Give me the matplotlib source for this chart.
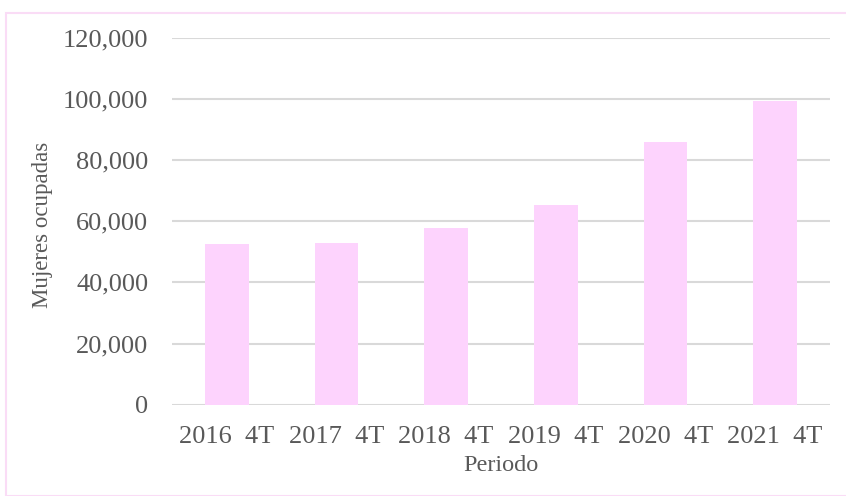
import numpy as np
import matplotlib.pyplot as plt
from matplotlib.patches import Rectangle
from matplotlib.ticker import FuncFormatter

# datos
periodos = ['2016  4T', '2017  4T', '2018  4T', '2019  4T', '2020  4T', '2021  4T']
mujeres = [52400, 53000, 57900, 65150, 86000, 99300]

plt.rcParams['font.family'] = ['Liberation Serif', 'DejaVu Serif']

W, H = 846, 496
fig = plt.figure(figsize=(W / 100, H / 100), dpi=100)
# marco rosa del grafico
fig.patches.append(Rectangle((6 / W, 0), 1, 1 - 13 / H, transform=fig.transFigure,
                             fill=False, edgecolor='#FADCF6', linewidth=1.5))

ax = fig.add_axes([172 / W, 1 - 404.7 / H, (830 - 172) / W, (404.7 - 37.7) / H])
x = np.arange(len(periodos))
ax.bar(x, mujeres, width=0.4, color='#FDD3FD', zorder=2)

ax.set_xlim(-0.5, len(periodos) - 0.5)
ax.set_ylim(0, 120000)
ax.set_yticks(np.arange(0, 120001, 20000))
ax.yaxis.set_major_formatter(FuncFormatter(lambda v, p: f'{v:,.0f}'))
ax.set_xticks(x)
ax.set_xticklabels(periodos)
ax.grid(axis='y', color='#D9D9D9', linewidth=1.5, zorder=0)
for s in ax.spines.values():
    s.set_visible(False)
ax.tick_params(length=0, labelsize=19, colors='#595959')
ax.tick_params(axis='y', pad=17)
ax.tick_params(axis='x', pad=15)

ax.set_xlabel('Periodo', fontsize=17.5, color='#595959')
ax.xaxis.set_label_coords(0.5, -0.137)
ax.set_ylabel('Mujeres ocupadas', fontsize=16.5, color='#595959')
ax.yaxis.set_label_coords(-0.181, 0.49)

fig.savefig('out.png', dpi=100)
